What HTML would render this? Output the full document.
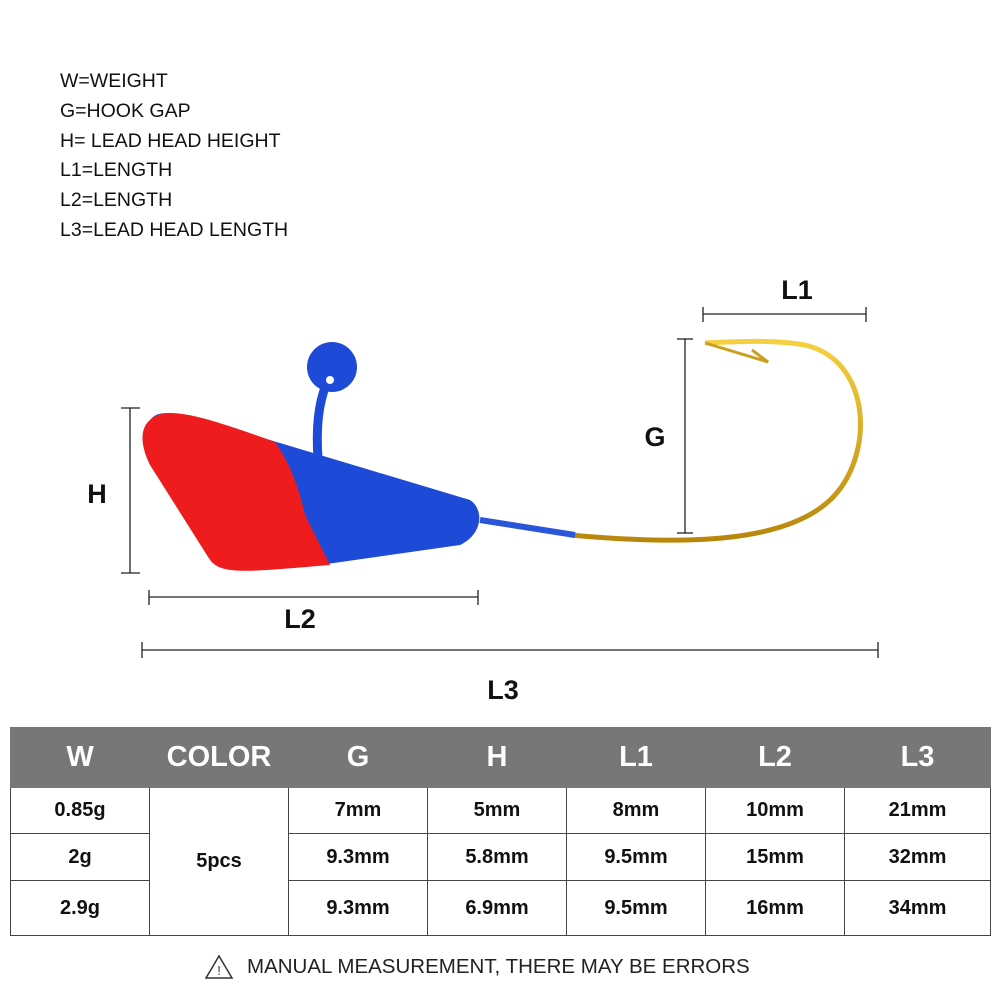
<!DOCTYPE html>
<html><head><style>
body{margin:0;background:#fff;font-family:"Liberation Sans",sans-serif;}
.wrap{position:relative;width:1000px;height:1000px;overflow:hidden;}
.legend{position:absolute;left:60px;top:67px;font-size:19.5px;color:#111;line-height:29.8px;}
table{position:absolute;left:10px;top:727px;border-collapse:collapse;width:981px;table-layout:fixed;}
td,th{border:1.5px solid #444;text-align:center;font-weight:bold;color:#111;font-size:20px;padding:0;}
th{background:#777;color:#fff;font-size:29px;height:59px;border-color:#777;}
.r1 td{height:45px}.r2 td{height:46px}.r3 td{height:54px}
.note{position:absolute;top:955px;font-size:20.5px;color:#222;}
</style></head><body><div class="wrap">
<div class="legend">W=WEIGHT<br>G=HOOK GAP<br>H= LEAD HEAD HEIGHT<br>L1=LENGTH<br>L2=LENGTH<br>L3=LEAD HEAD LENGTH</div>
<svg width="1000" height="720" style="position:absolute;left:0;top:0">
<defs>
<linearGradient id="gold" x1="0" y1="0" x2="0" y2="1"><stop offset="0" stop-color="#f5d040"/><stop offset="1" stop-color="#b8860b"/></linearGradient>
</defs>
<g stroke="#222" stroke-width="1.3" fill="none">
<line x1="703" y1="314" x2="866" y2="314"/><line x1="703" y1="307" x2="703" y2="322"/><line x1="866" y1="307" x2="866" y2="322"/>
<line x1="685" y1="339" x2="685" y2="533"/><line x1="677" y1="339" x2="693" y2="339"/><line x1="677" y1="533" x2="693" y2="533"/>
<line x1="130" y1="408" x2="130" y2="573"/><line x1="121" y1="408" x2="140" y2="408"/><line x1="121" y1="573" x2="140" y2="573"/>
<line x1="149" y1="597" x2="478" y2="597"/><line x1="149" y1="590" x2="149" y2="605"/><line x1="478" y1="590" x2="478" y2="605"/>
<line x1="142" y1="650" x2="878" y2="650"/><line x1="142" y1="642" x2="142" y2="658"/><line x1="878" y1="642" x2="878" y2="658"/>
</g>
<g font-weight="bold" font-size="27" fill="#111" text-anchor="middle">
<text x="797" y="299">L1</text><text x="655" y="446">G</text><text x="97" y="503">H</text>
<text x="300" y="628">L2</text><text x="503" y="699">L3</text></g>
<!-- hook -->
<path d="M570,535 C680,545 790,545 835,495 C875,450 870,360 805,345 C770,339 730,342 705,343" stroke="url(#gold)" stroke-width="5" fill="none"/>
<path d="M705,343 L768,362 L752,350" stroke="#c9a020" stroke-width="3" fill="none"/>
<path d="M480,520 L575,535" stroke="#2a55d8" stroke-width="6"/>
<!-- eye -->
<path d="M318,458 C316,430 318,405 326,385" stroke="#1e4ad8" stroke-width="9" fill="none"/>
<circle cx="332" cy="367" r="25" fill="#1e4ad8"/><circle cx="330" cy="380" r="4" fill="#fff"/>
<!-- head -->
<path d="M150,420 C160,408 175,410 270,440 L470,500 C485,510 482,535 460,545 L320,565 Z" fill="#1e4ad8"/>
<path d="M150,420 C140,428 140,445 150,465 L210,560 C222,575 245,572 330,565 L305,515 Q295,470 275,442 C200,415 165,405 150,420 Z" fill="#ee1c1c"/>
</svg>
<table>
<colgroup><col style="width:139px"><col style="width:139px"><col style="width:139px"><col style="width:139px"><col style="width:139px"><col style="width:139px"><col></colgroup>
<tr><th>W</th><th>COLOR</th><th>G</th><th>H</th><th>L1</th><th>L2</th><th>L3</th></tr>
<tr class="r1"><td>0.85g</td><td rowspan="3">5pcs</td><td>7mm</td><td>5mm</td><td>8mm</td><td>10mm</td><td>21mm</td></tr>
<tr class="r2"><td>2g</td><td>9.3mm</td><td>5.8mm</td><td>9.5mm</td><td>15mm</td><td>32mm</td></tr>
<tr class="r3"><td>2.9g</td><td>9.3mm</td><td>6.9mm</td><td>9.5mm</td><td>16mm</td><td>34mm</td></tr>
</table>
<svg width="30" height="28" style="position:absolute;left:204px;top:953px"><path d="M15,3 L28,25 L2,25 Z" fill="none" stroke="#333" stroke-width="1.5"/><text x="15" y="22" font-size="13" text-anchor="middle" fill="#333" font-family="Liberation Sans">!</text></svg>
<div class="note" style="left:247px">MANUAL MEASUREMENT, THERE MAY BE ERRORS</div>
</div></body></html>
